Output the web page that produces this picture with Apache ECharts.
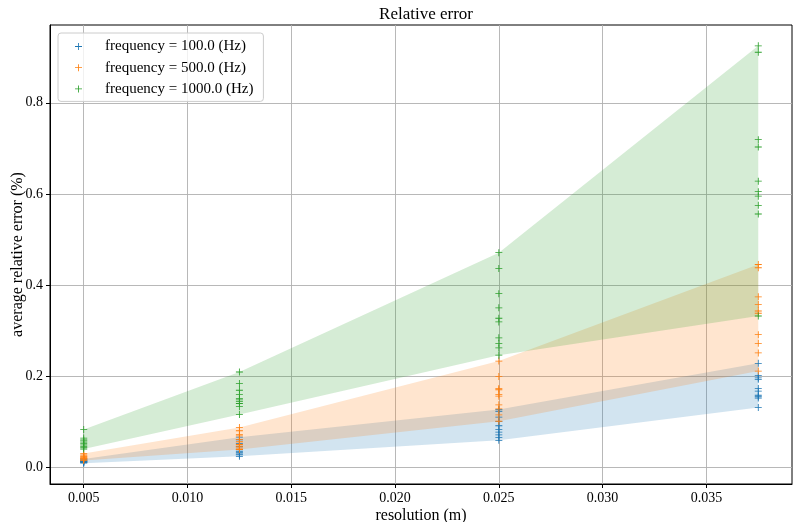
<!DOCTYPE html>
<html>
<head>
<meta charset="utf-8">
<script src="https://cdn.jsdelivr.net/npm/echarts@6/dist/echarts.min.js"></script>
<style>
  html, body { margin: 0; padding: 0; background: #fff; }
  #chart { width: 793px; height: 522px; }
</style>
</head>
<body>
<div id="chart"></div>
<script>
// Grid resolutions (m) at which the error was sampled
const resolution = [0.005, 0.0125, 0.025, 0.0375];

// Average relative error (%) per run, one list per resolution
const err100 = [
  [0.018, 0.016, 0.015, 0.014, 0.013, 0.012, 0.012, 0.011, 0.010, 0.009],
  [0.066, 0.060, 0.052, 0.045, 0.039, 0.035, 0.032, 0.029, 0.027, 0.024],
  [0.127, 0.123, 0.110, 0.100, 0.091, 0.083, 0.077, 0.071, 0.065, 0.059],
  [0.228, 0.201, 0.196, 0.193, 0.173, 0.167, 0.158, 0.155, 0.152, 0.131]
];
const err500 = [
  [0.030, 0.027, 0.025, 0.023, 0.022, 0.020, 0.019, 0.018, 0.016, 0.015],
  [0.087, 0.080, 0.072, 0.069, 0.061, 0.056, 0.050, 0.046, 0.042, 0.039],
  [0.233, 0.199, 0.173, 0.170, 0.160, 0.156, 0.137, 0.128, 0.115, 0.101],
  [0.445, 0.438, 0.374, 0.357, 0.343, 0.338, 0.291, 0.272, 0.251, 0.211]
];
const err1000 = [
  [0.083, 0.064, 0.060, 0.058, 0.055, 0.052, 0.049, 0.046, 0.043, 0.040],
  [0.209, 0.184, 0.169, 0.160, 0.151, 0.148, 0.144, 0.140, 0.133, 0.116],
  [0.471, 0.436, 0.381, 0.350, 0.327, 0.319, 0.284, 0.272, 0.262, 0.246],
  [0.925, 0.911, 0.719, 0.703, 0.628, 0.605, 0.595, 0.575, 0.556, 0.332]
];

const seriesNames = ['frequency = 100.0 (Hz)', 'frequency = 500.0 (Hz)', 'frequency = 1000.0 (Hz)'];
const seriesColors = ['#1f77b4', '#ff7f0e', '#2ca02c'];

// Tick positions
const xTicks = [0.005, 0.010, 0.015, 0.020, 0.025, 0.030, 0.035];
const yTicks = [0.0, 0.2, 0.4, 0.6, 0.8];

const FONT = '"Liberation Serif", "DejaVu Serif", serif';
// thin "+" marker
const PLUS = 'path://M0,4.4H10V5.6H0Z M4.4,0H5.6V10H4.4Z';

function scatterData(errs) {
  const pts = [];
  errs.forEach((vals, i) => vals.forEach(v => pts.push([resolution[i], v])));
  return pts;
}

// Shaded min-max envelope of the runs, drawn as one polygon in data coordinates
function bandSeries(errs, color) {
  const hi = errs.map((vals, i) => [resolution[i], Math.max(...vals)]);
  const lo = errs.map((vals, i) => [resolution[i], Math.min(...vals)]);
  return {
    type: 'custom', silent: true, z: 2, clip: true,
    data: [[resolution[0], lo[0][1]]],
    renderItem: (params, api) => {
      const pts = hi.concat(lo.slice().reverse()).map(p => api.coord(p));
      return {
        type: 'polygon',
        shape: { points: pts },
        style: { fill: color, opacity: 0.2 }
      };
    }
  };
}

const series = [];
[err100, err500, err1000].forEach((errs, k) => {
  series.push({
    name: seriesNames[k], type: 'scatter', data: scatterData(errs),
    symbol: PLUS, symbolSize: 7,
    itemStyle: { color: seriesColors[k], opacity: 1 }, z: 2
  });
  series.push(bandSeries(errs, seriesColors[k]));
});

const chart = echarts.init(document.getElementById('chart'), null, { renderer: 'canvas' });
chart.setOption({
  animation: false,
  backgroundColor: '#fff',
  textStyle: { fontFamily: FONT },
  title: {
    text: 'Relative error', left: 421, top: 1, textAlign: 'center',
    textStyle: { fontFamily: FONT, fontSize: 17, fontWeight: 'normal', color: '#000' }
  },
  legend: {
    orient: 'vertical', left: 58, top: 33,
    data: seriesNames.map((n, k) => ({ name: n, icon: PLUS, itemStyle: { color: seriesColors[k] } })),
    itemWidth: 7, itemHeight: 7, itemGap: 6.2,
    padding: [6, 10, 5, 17],
    backgroundColor: 'rgba(255,255,255,0.8)',
    borderColor: '#cccccc', borderWidth: 1, borderRadius: 3,
    formatter: name => '{g|}{t|' + name + '}',
    textStyle: {
      fontFamily: FONT, fontSize: 15, lineHeight: 14, color: '#000',
      rich: {
        g: { width: 18 },
        t: { fontFamily: FONT, fontSize: 15, lineHeight: 14, color: '#000' }
      }
    }
  },
  grid: {
    left: 50, right: 1, top: 25, bottom: 38,
    outerBoundsMode: 'none', containLabel: false,
    show: true, borderColor: '#000', borderWidth: 1, backgroundColor: 'transparent'
  },
  xAxis: {
    type: 'value', min: 0.003375, max: 0.039125,
    name: 'resolution (m)', nameLocation: 'middle', nameGap: 24, nameMoveOverlap: false,
    nameTextStyle: { fontFamily: FONT, fontSize: 16, color: '#000' },
    axisLine: { show: true, onZero: false, lineStyle: { color: '#000', width: 1 } },
    axisTick: { show: true, inside: false, length: 4, customValues: xTicks, lineStyle: { color: '#000' } },
    axisLabel: {
      customValues: xTicks, margin: 7, color: '#000', fontFamily: FONT, fontSize: 14,
      formatter: v => v.toFixed(3)
    },
    splitLine: { show: true, lineStyle: { color: '#b0b0b0', width: 0.9 } }
  },
  yAxis: {
    type: 'value', min: -0.0368, max: 0.9708,
    name: 'average relative error (%)', nameLocation: 'middle', nameGap: 24, nameMoveOverlap: false,
    nameTextStyle: { fontFamily: FONT, fontSize: 16, color: '#000' },
    axisLine: { show: true, onZero: false, lineStyle: { color: '#000', width: 1 } },
    axisTick: { show: true, inside: false, length: 4, customValues: yTicks, lineStyle: { color: '#000' } },
    axisLabel: {
      customValues: yTicks, margin: 7, color: '#000', fontFamily: FONT, fontSize: 14,
      formatter: v => v.toFixed(1)
    },
    splitLine: { show: true, lineStyle: { color: '#b0b0b0', width: 0.9 } }
  },
  series: series
});
</script>
</body>
</html>
